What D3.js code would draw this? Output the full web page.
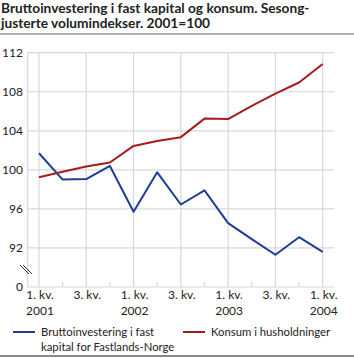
<!DOCTYPE html>
<html><head><meta charset="utf-8">
<script src="https://cdn.jsdelivr.net/npm/d3@7"></script>
<style>body{margin:0;background:#fff}svg{display:block}text{font-family:Lato,"Open Sans",sans-serif;fill:#222}</style>
</head><body>
<script>
const titleLines = ["Bruttoinvestering i fast kapital og konsum. Sesong-", "justerte volumindekser. 2001=100"];
const quarters = ["2001Q1","2001Q2","2001Q3","2001Q4","2002Q1","2002Q2","2002Q3","2002Q4","2003Q1","2003Q2","2003Q3","2003Q4","2004Q1"];
const investering = [101.7, 99.0, 99.05, 100.4, 95.7, 99.75, 96.45, 97.9, 94.55, 92.9, 91.3, 93.1, 91.6];
const konsum = [99.25, 99.8, 100.35, 100.75, 102.45, 102.95, 103.35, 105.25, 105.2, 106.55, 107.8, 108.95, 110.85];
const yTicks = [92, 96, 100, 104, 108, 112];
const xLabelTop = ["1. kv.", "", "3. kv.", "", "1. kv.", "", "3. kv.", "", "1. kv.", "", "3. kv.", "", "1. kv."];
const xLabelBottom = ["2001", "", "", "", "2002", "", "", "", "2003", "", "", "", "2004"];
const seriesNames = ["Bruttoinvestering i fast|kapital for Fastlands-Norge", "Konsum i husholdninger"];
const colors = ["#1f3c96", "#a51c1c"];

const W = 354, H = 358;
const svg = d3.select("body").append("svg").attr("width", W).attr("height", H);

// title
const t = svg.append("text").attr("font-weight", "bold").attr("font-size", 13.7);
titleLines.forEach((l, i) => t.append("tspan").attr("x", 1).attr("y", 12.5 + i * 15.5).text(l));
svg.append("line").attr("x1", 0).attr("x2", W).attr("y1", 34).attr("y2", 34).attr("stroke", "#b0b0b0").attr("stroke-width", 2);
svg.append("line").attr("x1", 0).attr("x2", W).attr("y1", 356).attr("y2", 356).attr("stroke", "#8a8a8a").attr("stroke-width", 2);

const left = 27.7, right = 334, bottom = 287;
const x = d3.scaleLinear().domain([0, quarters.length - 1]).range([39, 322.7]);
const y = d3.scaleLinear().domain([88, 112]).range([bottom, 52.7]);
const grid = "#d8d8d8";

const g = svg.append("g");
g.selectAll(".hg").data(yTicks).join("line")
  .attr("x1", left).attr("x2", right).attr("y1", d => y(d)).attr("y2", d => y(d))
  .attr("stroke", grid).attr("stroke-width", 1.2);
const idx = d3.range(quarters.length);
g.selectAll(".vg").data(idx.filter(i => i % 2 === 0)).join("line")
  .attr("x1", d => x(d)).attr("x2", d => x(d)).attr("y1", y(112)).attr("y2", bottom)
  .attr("stroke", grid).attr("stroke-width", 1.2);
g.selectAll(".mt").data(idx.filter(i => i % 2 === 1)).join("line")
  .attr("x1", d => x(d)).attr("x2", d => x(d)).attr("y1", bottom - 5).attr("y2", bottom)
  .attr("stroke", grid).attr("stroke-width", 1.2);
g.append("line").attr("x1", left).attr("x2", left).attr("y1", y(112)).attr("y2", bottom).attr("stroke", grid).attr("stroke-width", 1.2);
g.append("line").attr("x1", left).attr("x2", right).attr("y1", bottom).attr("y2", bottom).attr("stroke", grid).attr("stroke-width", 1.2);

// break symbol
[0, 3].forEach(o => g.append("line").attr("x1", 20 + o).attr("y1", 265).attr("x2", 29 + o).attr("y2", 274)
  .attr("stroke", "#333").attr("stroke-width", 1));

g.selectAll(".yl").data(yTicks).join("text")
  .attr("x", 23).attr("y", d => y(d)).attr("dy", "0.35em").attr("text-anchor", "end")
  .attr("font-size", 12).text(d => d);
g.append("text").attr("x", 23).attr("y", bottom).attr("dy", "0.35em").attr("text-anchor", "end").attr("font-size", 12).text("0");

g.selectAll(".xl").data(idx.filter(i => xLabelTop[i])).join("text")
  .attr("x", d => x(d) + 1).attr("y", 299).attr("text-anchor", "middle").attr("font-size", 12).text(d => xLabelTop[d]);
g.selectAll(".xl2").data(idx.filter(i => xLabelBottom[i])).join("text")
  .attr("x", d => x(d) + 1).attr("y", 315).attr("text-anchor", "middle").attr("font-size", 12).text(d => xLabelBottom[d]);

const line = d3.line().x((d, i) => x(i)).y(d => y(d));
[investering, konsum].forEach((s, k) => g.append("path").attr("d", line(s))
  .attr("fill", "none").attr("stroke", colors[k]).attr("stroke-width", 2).attr("stroke-linejoin", "round"));

const lx = [13, 183], tx = [41, 211];
seriesNames.forEach((n, k) => {
  svg.append("line").attr("x1", lx[k]).attr("x2", lx[k] + 22).attr("y1", 332).attr("y2", 332)
    .attr("stroke", colors[k]).attr("stroke-width", 2);
  const tt = svg.append("text").attr("font-size", 11.3);
  n.split("|").forEach((l, i) => tt.append("tspan").attr("x", tx[k]).attr("y", 336 + i * 15).text(l));
});
</script>
</body></html>
